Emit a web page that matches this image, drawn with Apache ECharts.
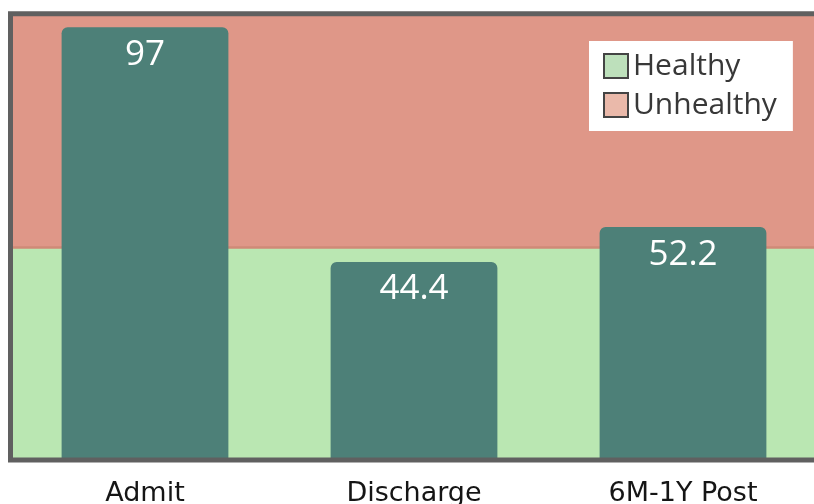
<!DOCTYPE html>
<html>
<head>
<meta charset="utf-8">
<script src="https://cdn.jsdelivr.net/npm/echarts@6/dist/echarts.min.js"></script>
<style>
  html, body { margin: 0; padding: 0; background: #ffffff; }
  #chart { width: 814px; height: 504px; }
</style>
</head>
<body>
<div id="chart"></div>
<script>
// Stage labels and the score measured at each stage
const stages = ['Admit', 'Discharge', '6M-1Y Post'];
const scores = [97, 44.4, 52.2];

// Score scale and the cut-off between the healthy and unhealthy zones
const scaleMin = 0;
const scaleMax = 100;
const healthyLimit = 47.6;

// Zone names shown in the legend
const zoneNames = ['Healthy', 'Unhealthy'];

const chart = echarts.init(document.getElementById('chart'), null, { renderer: 'canvas' });

chart.setOption({
  animation: false,
  backgroundColor: '#ffffff',
  grid: {
    left: 10.5,
    top: 13.8,
    width: 807,
    bottom: 44,
    outerBoundsMode: 'none',
    containLabel: false,
    show: true,
    z: 10,
    backgroundColor: 'transparent',
    borderColor: '#606060',
    borderWidth: 5
  },
  legend: {
    data: zoneNames,
    orient: 'vertical',
    left: 589,
    top: 41,
    backgroundColor: '#ffffff',
    padding: [10, 16, 11, 14],
    itemGap: 9,
    itemWidth: 24,
    itemHeight: 24,
    icon: 'rect',
    selectedMode: false,
    textStyle: {
      fontFamily: 'Open Sans',
      fontSize: 30,
      color: '#383838'
    }
  },
  xAxis: {
    type: 'category',
    data: stages,
    axisLine: { show: false },
    axisTick: { show: false },
    axisLabel: {
      margin: 20,
      fontFamily: 'DejaVu Sans',
      fontSize: 27,
      color: '#151515'
    }
  },
  yAxis: {
    type: 'value',
    min: scaleMin,
    max: scaleMax,
    show: false,
    splitLine: { show: false }
  },
  series: [
    {
      name: zoneNames[0],
      type: 'line',
      data: [],
      z: 1,
      itemStyle: { color: '#bde0bb', borderColor: '#444444', borderWidth: 1.5 },
      markArea: {
        silent: true,
        itemStyle: { color: '#bae7b2' },
        data: [[{ yAxis: scaleMin }, { yAxis: healthyLimit }]]
      }
    },
    {
      name: zoneNames[1],
      type: 'line',
      data: [],
      z: 1,
      itemStyle: { color: '#eab9aa', borderColor: '#444444', borderWidth: 1.5 },
      markArea: {
        silent: true,
        itemStyle: { color: '#df9788', borderColor: '#cf8a77', borderWidth: 2.5 },
        data: [[{ yAxis: healthyLimit }, { yAxis: scaleMax }]]
      }
    },
    {
      name: 'Score',
      type: 'bar',
      data: scores,
      z: 3,
      barWidth: '62%',
      itemStyle: {
        color: '#4d8078',
        borderRadius: [6, 6, 0, 0]
      },
      label: {
        show: true,
        position: 'insideTop',
        distance: 10,
        fontFamily: 'Open Sans',
        fontSize: 35,
        color: '#ffffff'
      }
    }
  ]
});
</script>
</body>
</html>
